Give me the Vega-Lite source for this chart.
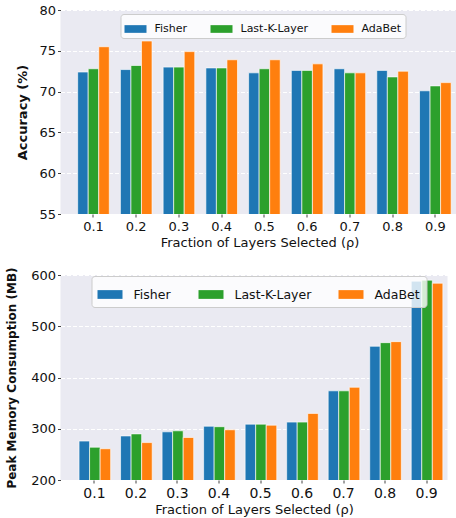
{
  "$schema": "https://vega.github.io/schema/vega-lite/v6.json",
  "background": "white",
  "padding": {"left": 5.5, "top": 4, "right": 6, "bottom": 2},
  "spacing": 17,
  "align": "none",
  "resolve": {"scale": {"color": "independent"}, "legend": {"color": "independent"}},
  "config": {
    "font": "DejaVu Sans",
    "view": {"fill": "#eaeaf2", "stroke": null},
    "axis": {
      "domain": false,
      "tickColor": "#444444",
      "tickSize": 3,
      "labelColor": "#111111",
      "titleColor": "#111111",
      "labelFont": "DejaVu Sans",
      "titleFont": "DejaVu Sans",
      "labelPadding": 2
    },
    "legend": {
      "labelFont": "DejaVu Sans",
      "labelColor": "#111111",
      "fillColor": "rgba(255,255,255,0.8)",
      "strokeColor": "#cccccc",
      "cornerRadius": 3,
      "symbolStrokeWidth": 0,
      "symbolOpacity": 1
    }
  },
  "datasets": {
    "results": [
      {"rho": "0.1", "method": "Fisher", "accuracy": 72.4, "memory": 276},
      {"rho": "0.1", "method": "Last-K-Layer", "accuracy": 72.8, "memory": 264},
      {"rho": "0.1", "method": "AdaBet", "accuracy": 75.5, "memory": 261},
      {"rho": "0.2", "method": "Fisher", "accuracy": 72.7, "memory": 286},
      {"rho": "0.2", "method": "Last-K-Layer", "accuracy": 73.2, "memory": 290},
      {"rho": "0.2", "method": "AdaBet", "accuracy": 76.2, "memory": 273},
      {"rho": "0.3", "method": "Fisher", "accuracy": 73.0, "memory": 294},
      {"rho": "0.3", "method": "Last-K-Layer", "accuracy": 73.0, "memory": 296},
      {"rho": "0.3", "method": "AdaBet", "accuracy": 74.9, "memory": 283},
      {"rho": "0.4", "method": "Fisher", "accuracy": 72.9, "memory": 305},
      {"rho": "0.4", "method": "Last-K-Layer", "accuracy": 72.9, "memory": 304},
      {"rho": "0.4", "method": "AdaBet", "accuracy": 73.9, "memory": 298},
      {"rho": "0.5", "method": "Fisher", "accuracy": 72.3, "memory": 309},
      {"rho": "0.5", "method": "Last-K-Layer", "accuracy": 72.8, "memory": 309},
      {"rho": "0.5", "method": "AdaBet", "accuracy": 73.9, "memory": 307},
      {"rho": "0.6", "method": "Fisher", "accuracy": 72.6, "memory": 313},
      {"rho": "0.6", "method": "Last-K-Layer", "accuracy": 72.6, "memory": 313},
      {"rho": "0.6", "method": "AdaBet", "accuracy": 73.4, "memory": 330},
      {"rho": "0.7", "method": "Fisher", "accuracy": 72.8, "memory": 374},
      {"rho": "0.7", "method": "Last-K-Layer", "accuracy": 72.3, "memory": 374},
      {"rho": "0.7", "method": "AdaBet", "accuracy": 72.3, "memory": 381},
      {"rho": "0.8", "method": "Fisher", "accuracy": 72.6, "memory": 461},
      {"rho": "0.8", "method": "Last-K-Layer", "accuracy": 71.8, "memory": 468},
      {"rho": "0.8", "method": "AdaBet", "accuracy": 72.5, "memory": 470},
      {"rho": "0.9", "method": "Fisher", "accuracy": 70.1, "memory": 588},
      {"rho": "0.9", "method": "Last-K-Layer", "accuracy": 70.7, "memory": 590},
      {"rho": "0.9", "method": "AdaBet", "accuracy": 71.1, "memory": 584}
    ]
  },
  "vconcat": [
    {
      "vconcat": [
        {
          "width": 398,
          "height": 204,
          "data": {"name": "results"},
          "mark": {"type": "bar", "clip": true, "stroke": "white", "strokeWidth": 0.8, "strokeOpacity": 0.8},
          "encoding": {
            "x": {
              "field": "rho", "type": "nominal",
              "scale": {"paddingInner": 0.26, "paddingOuter": 0.287, "align": 0.7},
              "axis": {"labelAngle": 0, "title": "Fraction of Layers Selected (ρ)", "labelFontSize": 13, "titleFontSize": 13, "titleFontWeight": "normal", "grid": false, "labelPadding": 3, "titlePadding": 3}
            },
            "xOffset": {
              "field": "method", "type": "nominal",
              "scale": {"domain": ["Fisher", "Last-K-Layer", "AdaBet"], "paddingInner": 0}
            },
            "y": {
              "field": "accuracy", "type": "quantitative",
              "scale": {"domain": [55, 80], "nice": false, "zero": false},
              "axis": {"values": [55, 60, 65, 70, 75, 80], "title": "Accuracy (%)", "titleFontWeight": "bold", "titleFontSize": 13, "labelFontSize": 13, "minExtent": 22, "maxExtent": 22, "titlePadding": 9, "gridColor": "white", "gridDash": [4, 2], "gridWidth": 1}
            },
            "color": {
              "field": "method", "type": "nominal",
              "scale": {"domain": ["Fisher", "Last-K-Layer", "AdaBet"], "range": ["#1f77b4", "#2ca02c", "#ff7f0e"]},
              "legend": {
                "title": null, "orient": "none", "legendX": 60, "legendY": 4, "direction": "horizontal",
                "symbolType": "M-1,-0.35H1V0.35H-1Z", "symbolSize": 484,
                "labelFontSize": 11, "labelOffset": 8, "columnPadding": 23, "padding": 4
              }
            }
          }
        }
      ]
    },
    {
      "vconcat": [
        {
          "width": 387,
          "height": 205,
          "data": {"name": "results"},
          "mark": {"type": "bar", "clip": true, "stroke": "white", "strokeWidth": 0.8, "strokeOpacity": 0.8},
          "encoding": {
            "x": {
              "field": "rho", "type": "nominal",
              "scale": {"paddingInner": 0.26, "paddingOuter": 0.29, "align": 0.77},
              "axis": {"labelAngle": 0, "title": "Fraction of Layers Selected (ρ)", "labelFontSize": 14, "titleFontSize": 13, "titleFontWeight": "normal", "grid": false, "labelPadding": 3, "titlePadding": 3}
            },
            "xOffset": {
              "field": "method", "type": "nominal",
              "scale": {"domain": ["Fisher", "Last-K-Layer", "AdaBet"], "paddingInner": 0}
            },
            "y": {
              "field": "memory", "type": "quantitative",
              "scale": {"domain": [200, 600], "nice": false, "zero": false},
              "axis": {"values": [200, 300, 400, 500, 600], "title": "Peak Memory Consumption (MB)", "titleFontWeight": "bold", "titleFontSize": 12, "labelFontSize": 13, "minExtent": 32, "maxExtent": 32, "titlePadding": 10, "gridColor": "white", "gridDash": [4, 2], "gridWidth": 1}
            },
            "color": {
              "field": "method", "type": "nominal",
              "scale": {"domain": ["Fisher", "Last-K-Layer", "AdaBet"], "range": ["#1f77b4", "#2ca02c", "#ff7f0e"]},
              "legend": {
                "title": null, "orient": "none", "legendX": 31, "legendY": 1, "direction": "horizontal",
                "symbolType": "M-1,-0.35H1V0.35H-1Z", "symbolSize": 625,
                "labelFontSize": 12.5, "labelOffset": 11, "columnPadding": 27, "padding": 6
              }
            }
          }
        }
      ]
    }
  ]
}
